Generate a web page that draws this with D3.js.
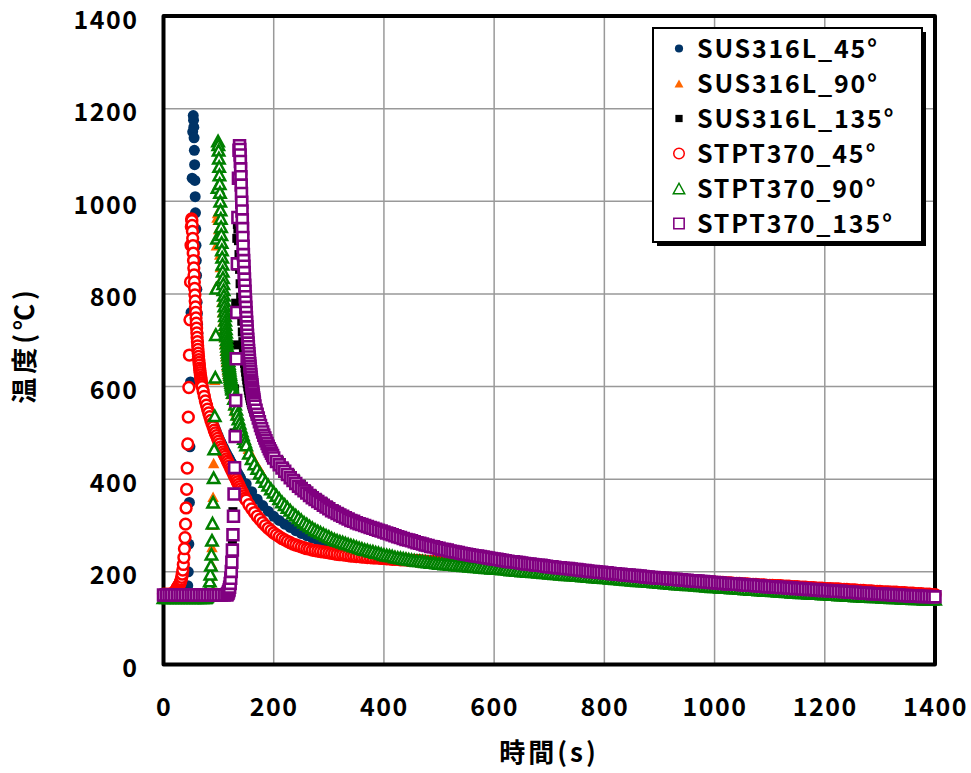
<!DOCTYPE html>
<html><head><meta charset="utf-8">
<script src="https://cdn.jsdelivr.net/npm/d3@7"></script>
<style>
body{margin:0;background:#fff}
text{font-family:"Noto Sans CJK JP","Noto Sans",sans-serif;font-weight:bold;fill:#000}
</style>
</head><body>
<svg id="c" width="971" height="773"></svg>
<script>
// ---------- axis ticks ----------
const xTicks = [0,200,400,600,800,1000,1200,1400];
const yTicks = [0,200,400,600,800,1000,1200,1400];
const seriesNames = ["SUS316L_45°","SUS316L_90°","SUS316L_135°","STPT370_45°","STPT370_90°","STPT370_135°"];
const xTitle = "時間(s)";
const yTitle = "温度(℃)";

// ---------- data: segments of [start time (s), sampling step (s), temperatures (°C)] ----------
const SUS316L_45 = [
 [0,5,[150,150,150,150,150,150,150,150,150]],
 [41,1,[151,153,158,170,200,260,350,470,610,760,910,1050,1150,1185]],
 [54.5,0.5,[1175,1160,1137,1110,1079,1045,1010,975,940,905,
        872,840,810,782,758,735,715,697,680,665,
        658,652,646,641,636,631,626,622,617,613,
        609,606,603,600,597,594,591,588,585,583,
        580,578,575,573,570,568,566,564,562,560,
        558,556]],
 [82,2,[549,541,534,527,520,514,508,502,496,491,
        485,480,475,470,465,460,456,451,447,443,
        438,434,430,426,422,418,414,410,406,402]],
 [150,10,[390,373,357,343,331,320,311,303,296,289,
        283,278,273,268,264,260,257,253,250,247,
        244,242,239,237,235,233,231,229,228,226,
        225,223,222,221,219,218,217,216,215,214,
        213,212,211,210,209,208,207,206,206,205,
        204,203,202,202,201,200,199,199,198,197,
        196,196,195,194,194,193,192,191,190,189,
        188,187,186,185,184,183,182,181,180,179,
        178,177,176,175,174,173,172,171,170,169,
        168,168,167,166,165,164,163,162,161,161,
        160,159,158,157,157,156,155,154,154,153,
        152,151,151,150,149,149,148,148,147,147,
        146,146,145,145,144,144]]
];
const SUS316L_90 = [
 [0,5,[148,148,148,148,148,148,148,148,148,148,148,148,148,148,148,148,148]],
 [81,1,[149,151,155,162,174,192,218,254,302,362,
        435,520,615,715,815,905,965,975,960,940,
        912,885,858,832,807,783,761,741,723,707,
        692,678,666,655,645,636,628,620,613,607]],
 [122,2,[595,584,574,564,555,546,537,529,521,513,
        505,498,491,484,478,472,466,461,456,451,
        446,442,438,434,430,426,422,418,414,410]],
 [190,10,[392,376,362,349,337,326,316,307,299,292,
        286,280,274,270,266,262,258,254,251,248,
        245,241,239,236,234,232,230,228,227,226,
        225,224,223,222,221,220,219,218,217,216,
        215,214,213,212,211,210,209,208,207,206,
        206,205,204,203,202,201,200,199,198,197,
        195,194,193,192,191,190,189,188,187,186,
        185,184,183,182,181,180,179,178,177,176,
        175,174,173,172,171,170,170,169,168,167,
        166,165,164,163,163,162,161,160,159,159,
        158,157,156,156,155,154,153,153,152,151,
        151,150,150,149,149,148,148,147,147,146,
        146,145]]
];
const SUS316L_135 = [
 [0,5,[150,150,150,150,150,150,150,150,150,150,150,150,150,150,150,150,150,150,150,150,150,150,150,150]],
 [117,1,[151,152,154,157,162,172,190,220,265,330,
        410,500,595,690,780,860,920,950,940,915,
        885,853,822,793,766,741,718,697,678,661,
        650,640,631,622,614,606,599,592,586,580,
        575,570,565,561,557,553,550,546,543,540]],
 [168,2,[536,533,530,527,523,518,513,507,500,494,488,482,476,471,466,461,456]],
 [210,10,[440,426,412,400,389,378,368,359,351,343,
        336,329,322,316,310,305,300,295,291,287,
        283,279,275,271,267,264,261,258,255,252,
        249,246,244,242,240,238,236,234,232,230,
        228,226,224,223,221,219,218,216,214,213,
        211,210,209,207,206,205,203,202,201,200,
        199,197,196,195,194,193,192,191,190,189,
        188,187,186,185,184,183,182,181,180,179,
        178,177,176,175,174,173,172,171,170,169,
        168,167,166,165,165,164,163,162,161,160,
        159,158,158,157,156,155,155,154,153,152,
        152,151,150,150,149,148,148,147,146,146]]
];
const STPT370_45 = [
 [0,5,[152,152,152,153,155]],
 [21,1,[157,159,161,163,165,167,169,171,173,176,
        179,183,188,195,204,216,231,250,274,303,
        338,378,424,476,534,598,668,744,826,905]],
 [50.5,0.5,[945,962,958,948,935,920,904,888,872,856,
        841,826,812,798,785,772,760,748,737,726,
        716,706,697,688,680,672,665,658,652,646,
        640,635,630,625,620,616,612,608,604,600]],
 [72,2,[590,579,569,560,551,543,535,527,520,513,
        506,500,494,488,482,476,470,465,459,454,
        449,444,439,434,429,424,419,414,409,404,
        399,394,389,384,379,374,369,364,359,355]],
 [155,5,[345,336,328,320,313,306,300,294,289,284,
        280,276,272,269,266,263,260,258,256,254,
        252,250,249,247,246,245,244,243,242,241,
        240,239,238,237,237,236,235,234,234,233,
        233,232,232,231,231,230,230,230,229,229,
        228,228,227,227,227,226,226,226,225,225,
        225,224,224,223,223,222,222,222,221,221,
        221,220,220,219,219,218,218,217,217,216,
        216,215,215,214,214,213,213,212,212,211,
        211,210,210,209,209,208,208,207,207,206,
        206,205,205,204,204,203,203,202,202,201,
        201,200,200,199,199,198,198,197,197,196,
        196,195,195,194,194,193,193,192,192,191,
        191,191,190,190,189,189,189,188,188,187,
        187,187,186,186,186,185,185,185,184,184,
        184,183,183,183,182,182,182,181,181,181,
        181,180,180,180,179,179,179,178,178,178,
        177,177,177,176,176,176,175,175,175,174,
        174,174,173,173,173,172,172,172,171,171,
        171,170,170,170,169,169,169,168,168,168,
        167,167,167,166,166,166,165,165,165,164,
        164,164,163,163,163,162,162,162,161,161,
        161,160,160,160,159,159,159,158,158,158,
        157,157,157,156,156,156,155,155,155,154,
        154,154,153,153,153,152,152,152,151,151]]
];
const STPT370_90 = [
 [0,5,[144,144,144,144,144,144,144,144,144,144,144,144,144,144,144,144]],
 [76,1,[144,145,146,148,151,155,161,169,180,195,
        214,238,268,305,350,403,465,537,620,712,
        812,920,1030,1130]],
 [99.5,0.5,[1122,1110,1093,1075,1057,1038,1019,1000,981,963,
        945,928,911,895,879,864,849,835,822,809,
        797,785,774,763,753,743,734,725,717,709,
        701,694,687,680,674,668,662,656,650,645,
        640,635,630,626,621,617,613,609,605,601,
        597,594]],
 [126,2,[587,574,562,551,540,530,521,512,504,496,488,481,474]],
 [155,5,[456,444,433,423,413,404,395,387,379,372,
        365,358,351,345,339,333,327,322,317,312,
        307,303,299,295,291,288,285,282,279,276,
        273,270,268,266,264,262,260,258,256,254,
        252,250,248,247,245,244,242,241,239,237,
        236,235,234,232,231,230,229,228,227,226,
        225,224,224,223,222,221,220,220,219,218,
        218,217,217,216,216,215,214,214,213,213,
        212,212,211,211,210,210,209,209,208,208,
        207,207,206,206,205,204,204,203,203,202,
        202,201,201,200,200,199,199,198,198,197,
        197,196,196,195,195,194,194,193,193,192,
        192,191,191,190,190,189,189,188,188,187,
        187,186,186,185,185,184,184,183,183,182,
        182,181,181,180,180,179,179,178,178,177,
        177,176,176,175,175,174,174,173,173,172,
        172,172,171,171,170,170,169,169,168,168,
        168,167,167,166,166,165,165,165,164,164,
        163,163,162,162,162,161,161,160,160,160,
        159,159,158,158,158,157,157,156,156,156,
        155,155,155,154,154,153,153,153,152,152,
        152,151,151,151,150,150,150,149,149,149,
        148,148,148,147,147,147,146,146,146,146,
        145,145,145,144,144,144,144,143,143,143,
        143,142,142,142,142,141,141,141,141,141]]
];
const STPT370_135 = [
 [0,5,[150,150,150,150,150,150,150,150,150,150,150,150,150,150,150,150,150,150,150,150,150,150,150,150]],
 [116,1,[152,154,157,161,167,175,186,201,221,247,
        280,320,368,425,492,570,660,760,865,965,
        1050,1110,1120]],
 [138.5,0.5,[1112,1100,1086,1070,1053,1035,1017,998,979,960,
        941,922,903,885,872,860,846,832,819,806,
        794,782,771,760,749,739,729,720,711,702,
        694,686,678,671,664,657,650,644,638,632,
        626,620,614,609,604,599,594,589,584,580,
        576,572,568,564]],
 [166,2,[558,549,540,532,524,516,509,502,495,489,483,477,471,466,461,456,451,446]],
 [205,5,[438,431,424,417,410,403,397,391,385,380,
        375,370,365,360,356,352,348,344,340,336,
        332,329,326,323,320,317,314,311,309,306,
        304,302,300,298,296,294,292,290,288,286,
        284,282,280,278,276,274,272,270,269,267,
        265,263,262,260,258,257,255,254,252,251,
        249,248,247,245,244,243,242,240,239,238,
        237,236,235,234,233,232,231,230,229,228,
        227,226,225,224,223,222,222,221,220,219,
        218,217,217,216,215,214,214,213,212,211,
        211,210,209,209,208,207,207,206,205,205,
        204,203,203,202,201,201,200,199,199,198,
        198,197,196,196,195,195,194,193,193,192,
        192,191,191,190,189,189,188,188,187,187,
        186,186,185,185,184,184,183,183,182,182,
        181,181,180,180,179,179,178,178,177,177,
        176,176,175,175,174,174,174,173,173,172,
        172,171,171,171,170,170,169,169,168,168,
        168,167,167,166,166,166,165,165,164,164,
        164,163,163,162,162,162,161,161,160,160,
        160,159,159,158,158,158,157,157,156,156,
        156,155,155,154,154,154,153,153,152,152,
        152,151,151,151,150,150,150,149,149,149,
        148,148,148,148,147,147,147,147,146,146]]
];

// ---------- build ----------
const svg = d3.select("#c");
const x = d3.scaleLinear().domain([0,1400]).range([163.5,935]);
const y = d3.scaleLinear().domain([0,1400]).range([664.5,16]);

function expand(segs){
  const pts=[];
  segs.forEach(([t0,dt,vals])=>vals.forEach((v,i)=>pts.push([t0+i*dt,v])));
  return pts;
}

const triType = {draw(ctx,size){const s=Math.sqrt(size),h=s*0.92;ctx.moveTo(0,-h/2);ctx.lineTo(s/2,h/2);ctx.lineTo(-s/2,h/2);ctx.closePath();}};
const styles = [
  {type:d3.symbolCircle, size:Math.PI*5.5*5.5, fill:"#003366", stroke:"none", sw:0, lg:0.55},
  {type:triType, size:11.5*11.5, fill:"#ff6600", stroke:"none", sw:0, lg:0.6},
  {type:d3.symbolSquare, size:9*9, fill:"#000000", stroke:"none", sw:0, lg:0.65},
  {type:d3.symbolCircle, size:Math.PI*5.4*5.4, fill:"#ffffff", stroke:"#ff0000", sw:2.5, lg:0.95},
  {type:triType, size:11.4*11.4, fill:"#ffffff", stroke:"#008000", sw:2.5, lg:1.0},
  {type:d3.symbolSquare, size:10.9*10.9, fill:"#ffffff", stroke:"#800080", sw:2.6, lg:0.9}
];
const allSeries = [SUS316L_45,SUS316L_90,SUS316L_135,STPT370_45,STPT370_90,STPT370_135];

// grid
const grid = svg.append("g");
grid.selectAll(".vx").data(xTicks.slice(1,-1)).join("line")
  .attr("x1",d=>x(d)).attr("x2",d=>x(d)).attr("y1",y(0)).attr("y2",y(1400))
  .attr("stroke","#999").attr("stroke-width",1.5);
grid.selectAll(".hy").data(yTicks.slice(1,-1)).join("line")
  .attr("y1",d=>y(d)).attr("y2",d=>y(d)).attr("x1",x(0)).attr("x2",x(1400))
  .attr("stroke","#999").attr("stroke-width",1.5);

// frame
svg.append("rect").attr("x",x(0)).attr("y",y(1400))
  .attr("width",x(1400)-x(0)).attr("height",y(0)-y(1400))
  .attr("fill","none").attr("stroke","#000").attr("stroke-width",4).attr("stroke-linejoin","round");

// axes
const fs = 25;
const ax = svg.append("g").attr("transform",`translate(0,${y(0)})`)
  .call(d3.axisBottom(x).tickValues(xTicks).tickSize(0).tickPadding(34).tickFormat(d3.format("d")));
const ay = svg.append("g").attr("transform",`translate(${x(0)},0)`)
  .call(d3.axisLeft(y).tickValues(yTicks).tickSize(0).tickPadding(25).tickFormat(d3.format("d")));
[ax,ay].forEach(g=>{g.select(".domain").remove();
  g.selectAll("text").attr("font-size",fs).style("font-family",'"Noto Sans CJK JP",sans-serif').style("font-weight","bold").attr("fill","#000").style("letter-spacing","1.5px");});
ay.selectAll("text").attr("dy","0.48em");

svg.append("text").attr("x",549).attr("y",762).attr("text-anchor","middle").attr("font-size",26).style("letter-spacing","3px").text(xTitle);
svg.append("text").attr("transform","translate(34,345) rotate(-90)").attr("text-anchor","middle").attr("font-size",26).style("letter-spacing","4px").text(yTitle);

// series
allSeries.forEach((segs,i)=>{
  const st = styles[i];
  const sym = d3.symbol().type(st.type).size(st.size)();
  svg.append("g").selectAll("path").data(expand(segs)).join("path")
    .attr("d",sym).attr("transform",d=>`translate(${x(d[0])},${y(d[1])})`)
    .attr("fill",st.fill).attr("stroke",st.stroke).attr("stroke-width",st.sw);
});

// legend
const lg = svg.append("g");
lg.append("rect").attr("x",657).attr("y",32).attr("width",269).attr("height",214).attr("fill","#000");
lg.append("rect").attr("x",653).attr("y",28).attr("width",269).attr("height",214).attr("fill","#fff").attr("stroke","#000").attr("stroke-width",2);
seriesNames.forEach((n,i)=>{
  const by = 57.5 + i*35;
  const st = styles[i];
  lg.append("path").attr("d",d3.symbol().type(st.type).size(st.size*st.lg)())
    .attr("transform",`translate(679,${by-9})`).attr("fill",st.fill).attr("stroke",st.stroke).attr("stroke-width",st.sw*0.6);
  lg.append("text").attr("x",697).attr("y",by).attr("font-size",25).style("letter-spacing","1.8px").text(n);
});
</script>
</body></html>
